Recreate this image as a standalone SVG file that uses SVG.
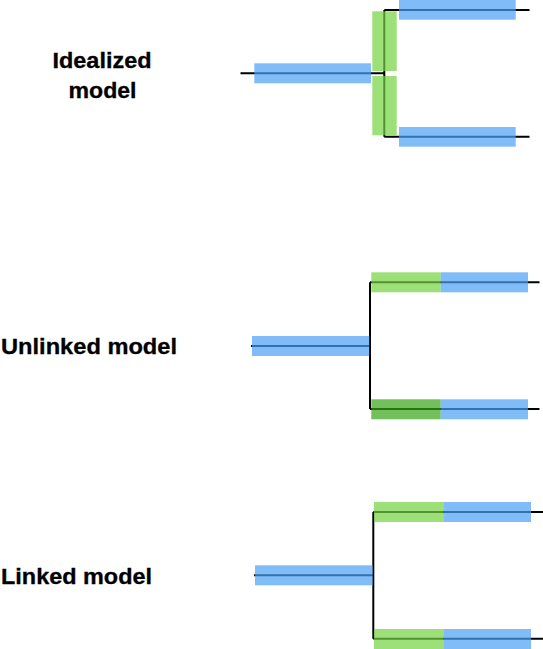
<svg xmlns="http://www.w3.org/2000/svg" width="543" height="649" viewBox="0 0 543 649">
<style>
.ln{stroke:#000;stroke-width:2;fill:none}
.b{fill:#4a9ff5;fill-opacity:0.7}
.g{fill:#73d13e;fill-opacity:0.7}
.dg{fill:#38a415;fill-opacity:0.7}
.t{font-family:"Liberation Sans",Arial,sans-serif;font-weight:bold;font-size:21.5px;fill:#000;stroke:#000;stroke-width:0.3}
</style>
<rect width="543" height="649" fill="#fff"/>
<g id="connectors">
<path class="ln" d="M240.5,73.3H384.3M384.3,10V136.7M384.3,10H529.5M384.3,136.7H529.5"/>
<path class="ln" d="M251,346H370M370,282.3V409M370,282.3H539.5M370,409H539.5"/>
<path class="ln" d="M254,575.3H373.3M373.3,512V638.7M373.3,512H543M373.3,638.7H543"/>
</g>
<g id="idealized-label"><text class="t" x="102" y="67.5" text-anchor="middle" textLength="99" lengthAdjust="spacingAndGlyphs">Idealized</text><text class="t" x="102.5" y="97.5" text-anchor="middle" textLength="68" lengthAdjust="spacingAndGlyphs">model</text></g>
<g id="idealized-root"><rect class="b" x="254.3" y="63.3" width="116.7" height="20"/></g>
<g id="idealized-green-top"><rect class="g" x="372.3" y="11.3" width="24.4" height="59.7"/></g>
<g id="idealized-green-bottom"><rect class="g" x="372.3" y="76" width="24.4" height="59.3"/></g>
<g id="idealized-top"><rect class="b" x="399" y="0" width="116.7" height="19.7"/></g>
<g id="idealized-bottom"><rect class="b" x="399" y="127" width="116.7" height="19.7"/></g>
<g id="unlinked-label"><text class="t" x="1" y="354" textLength="176" lengthAdjust="spacingAndGlyphs">Unlinked model</text></g>
<g id="unlinked-root"><rect class="b" x="252" y="336" width="117.3" height="20"/></g>
<g id="unlinked-top"><rect class="g" x="371.3" y="272.3" width="69.4" height="20"/><rect class="b" x="440.7" y="272.3" width="87.3" height="20"/></g>
<g id="unlinked-bottom"><rect class="dg" x="371.3" y="399.3" width="69.4" height="20"/><rect class="b" x="440.7" y="399.3" width="87.3" height="20"/></g>
<g id="linked-label"><text class="t" x="1" y="584" textLength="151" lengthAdjust="spacingAndGlyphs">Linked model</text></g>
<g id="linked-root"><rect class="b" x="255" y="565.3" width="117.7" height="20"/></g>
<g id="linked-top"><rect class="g" x="374" y="502" width="69.3" height="20"/><rect class="b" x="443.3" y="502" width="87.7" height="20"/></g>
<g id="linked-bottom"><rect class="g" x="374" y="629" width="69.3" height="20"/><rect class="b" x="443.3" y="629" width="87.7" height="20"/></g>
</svg>
